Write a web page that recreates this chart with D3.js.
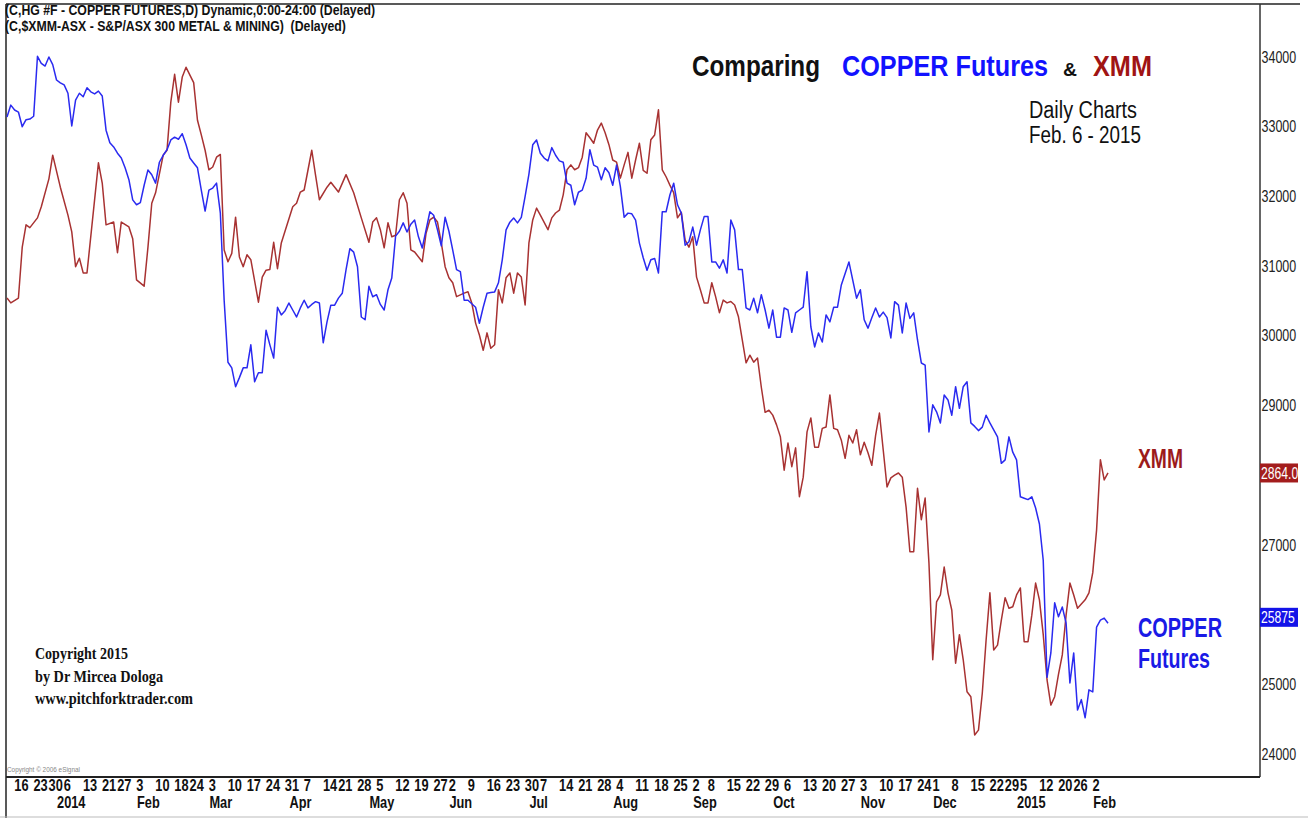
<!DOCTYPE html>
<html>
<head>
<meta charset="utf-8">
<script src="https://cdn.jsdelivr.net/npm/d3@7"></script>
<style>
  body { margin: 0; background: #fff; }
  svg { display: block; }
  text { font-family: "Liberation Sans", Arial, sans-serif; white-space: pre; }
</style>
</head>
<body>
<script>
const width = 1308;
const height = 818;

const copperColor = "#2a2af0";
const xmmColor = "#a83232";

// trading calendar (US exchange holidays inside the range)
const firstDay = "2013-12-12";
const lastDay = "2015-02-06";
const holidays = ["2013-12-25", "2014-01-01", "2014-01-20", "2014-02-17", "2014-04-18", "2014-05-26",
  "2014-07-04", "2014-09-01", "2014-11-27", "2014-12-25", "2015-01-01", "2015-01-19"];

// first trading day of each week (bottom row of labels)
const weekTicks = ["2013-12-16", "2013-12-23", "2013-12-30", "2014-01-06", "2014-01-13", "2014-01-21", "2014-01-27",
  "2014-02-03", "2014-02-10", "2014-02-18", "2014-02-24", "2014-03-03", "2014-03-10", "2014-03-17", "2014-03-24",
  "2014-03-31", "2014-04-07", "2014-04-14", "2014-04-21", "2014-04-28", "2014-05-05", "2014-05-12", "2014-05-19",
  "2014-05-27", "2014-06-02", "2014-06-09", "2014-06-16", "2014-06-23", "2014-06-30", "2014-07-07", "2014-07-14",
  "2014-07-21", "2014-07-28", "2014-08-04", "2014-08-11", "2014-08-18", "2014-08-25", "2014-09-02", "2014-09-08",
  "2014-09-15", "2014-09-22", "2014-09-29", "2014-10-06", "2014-10-13", "2014-10-20", "2014-10-27", "2014-11-03",
  "2014-11-10", "2014-11-17", "2014-11-24", "2014-12-01", "2014-12-08", "2014-12-15", "2014-12-22", "2014-12-29",
  "2015-01-05", "2015-01-12", "2015-01-20", "2015-01-26", "2015-02-02"];

const monthTicks = [["2014-01-02", "2014"], ["2014-02-03", "Feb"], ["2014-03-03", "Mar"], ["2014-04-01", "Apr"],
  ["2014-05-01", "May"], ["2014-06-02", "Jun"], ["2014-07-01", "Jul"], ["2014-08-01", "Aug"], ["2014-09-02", "Sep"],
  ["2014-10-01", "Oct"], ["2014-11-03", "Nov"], ["2014-12-01", "Dec"], ["2015-01-02", "2015"], ["2015-02-02", "Feb"]];

const priceTicks = [24000, 25000, 26000, 27000, 28000, 29000, 30000, 31000, 32000, 33000, 34000];

// HG copper futures, shown x10000 like the price scale
const copper = [
  ["2013-12-12", 33140], ["2013-12-13", 33310], ["2013-12-16", 33240], ["2013-12-17", 33210], ["2013-12-18", 33000],
  ["2013-12-19", 33100], ["2013-12-20", 33110], ["2013-12-23", 33150], ["2013-12-24", 34010], ["2013-12-26", 33910],
  ["2013-12-27", 33870], ["2013-12-30", 34000], ["2013-12-31", 33890], ["2014-01-02", 33670], ["2014-01-03", 33630],
  ["2014-01-06", 33600], ["2014-01-07", 33480], ["2014-01-08", 33010], ["2014-01-09", 33380], ["2014-01-10", 33480],
  ["2014-01-13", 33430], ["2014-01-14", 33560], ["2014-01-15", 33500], ["2014-01-16", 33470], ["2014-01-17", 33510],
  ["2014-01-21", 33440], ["2014-01-22", 32950], ["2014-01-23", 32770], ["2014-01-24", 32710], ["2014-01-27", 32620],
  ["2014-01-28", 32550], ["2014-01-29", 32410], ["2014-01-30", 32240], ["2014-01-31", 31950], ["2014-02-03", 31880],
  ["2014-02-04", 31910], ["2014-02-05", 32160], ["2014-02-06", 32380], ["2014-02-07", 32310], ["2014-02-10", 32190],
  ["2014-02-11", 32490], ["2014-02-12", 32590], ["2014-02-13", 32670], ["2014-02-14", 32810], ["2014-02-18", 32850],
  ["2014-02-19", 32820], ["2014-02-20", 32900], ["2014-02-21", 32740], ["2014-02-24", 32550], ["2014-02-25", 32480],
  ["2014-02-26", 32410], ["2014-02-27", 32090], ["2014-02-28", 31790], ["2014-03-03", 32090], ["2014-03-04", 32120],
  ["2014-03-05", 32190], ["2014-03-06", 31760], ["2014-03-07", 30510], ["2014-03-10", 29620], ["2014-03-11", 29540],
  ["2014-03-12", 29270], ["2014-03-13", 29400], ["2014-03-14", 29540], ["2014-03-17", 29540], ["2014-03-18", 29870],
  ["2014-03-19", 29340], ["2014-03-20", 29470], ["2014-03-21", 29470], ["2014-03-24", 30080], ["2014-03-25", 29870],
  ["2014-03-26", 29680], ["2014-03-27", 30410], ["2014-03-28", 30300], ["2014-03-31", 30360], ["2014-04-01", 30470],
  ["2014-04-02", 30370], ["2014-04-03", 30270], ["2014-04-04", 30400], ["2014-04-07", 30510], ["2014-04-08", 30400],
  ["2014-04-09", 30450], ["2014-04-10", 30490], ["2014-04-11", 30470], ["2014-04-14", 29900], ["2014-04-15", 30200],
  ["2014-04-16", 30440], ["2014-04-17", 30440], ["2014-04-21", 30540], ["2014-04-22", 30610], ["2014-04-23", 30950],
  ["2014-04-24", 31250], ["2014-04-25", 31200], ["2014-04-28", 30990], ["2014-04-29", 30270], ["2014-04-30", 30230],
  ["2014-05-01", 30710], ["2014-05-02", 30560], ["2014-05-05", 30590], ["2014-05-06", 30450], ["2014-05-07", 30370],
  ["2014-05-08", 30660], ["2014-05-09", 30830], ["2014-05-12", 31430], ["2014-05-13", 31500], ["2014-05-14", 31620],
  ["2014-05-15", 31490], ["2014-05-16", 31600], ["2014-05-19", 31660], ["2014-05-20", 31420], ["2014-05-21", 31260],
  ["2014-05-22", 31520], ["2014-05-23", 31780], ["2014-05-27", 31730], ["2014-05-28", 31520], ["2014-05-29", 31290],
  ["2014-05-30", 31700], ["2014-06-02", 31500], ["2014-06-03", 31230], ["2014-06-04", 30950], ["2014-06-05", 30920],
  ["2014-06-06", 30510], ["2014-06-09", 30510], ["2014-06-10", 30460], ["2014-06-11", 30410], ["2014-06-12", 30180],
  ["2014-06-13", 30410], ["2014-06-16", 30610], ["2014-06-17", 30620], ["2014-06-18", 30630], ["2014-06-19", 30760],
  ["2014-06-20", 31090], ["2014-06-23", 31520], ["2014-06-24", 31630], ["2014-06-25", 31690], ["2014-06-26", 31620],
  ["2014-06-27", 31700], ["2014-06-30", 32000], ["2014-07-01", 32320], ["2014-07-02", 32740], ["2014-07-03", 32810],
  ["2014-07-07", 32620], ["2014-07-08", 32550], ["2014-07-09", 32510], ["2014-07-10", 32700], ["2014-07-11", 32590],
  ["2014-07-14", 32510], ["2014-07-15", 32490], ["2014-07-16", 32190], ["2014-07-17", 32160], ["2014-07-18", 31880],
  ["2014-07-21", 32060], ["2014-07-22", 32090], ["2014-07-23", 32260], ["2014-07-24", 32670], ["2014-07-25", 32450],
  ["2014-07-28", 32420], ["2014-07-29", 32240], ["2014-07-30", 32410], ["2014-07-31", 32340], ["2014-08-01", 32160],
  ["2014-08-04", 32450], ["2014-08-05", 32140], ["2014-08-06", 31700], ["2014-08-07", 31760], ["2014-08-08", 31750],
  ["2014-08-11", 31660], ["2014-08-12", 31330], ["2014-08-13", 31120], ["2014-08-14", 30940], ["2014-08-15", 31090],
  ["2014-08-18", 31110], ["2014-08-19", 30900], ["2014-08-20", 31780], ["2014-08-21", 31780], ["2014-08-22", 32020],
  ["2014-08-25", 32190], ["2014-08-26", 31880], ["2014-08-27", 31760], ["2014-08-28", 31300], ["2014-08-29", 31350],
  ["2014-09-02", 31560], ["2014-09-03", 31300], ["2014-09-04", 31520], ["2014-09-05", 31710], ["2014-09-08", 31710],
  ["2014-09-09", 31060], ["2014-09-10", 31060], ["2014-09-11", 30970], ["2014-09-12", 31090], ["2014-09-15", 30900],
  ["2014-09-16", 31660], ["2014-09-17", 31520], ["2014-09-18", 30950], ["2014-09-19", 30950], ["2014-09-22", 30400],
  ["2014-09-23", 30370], ["2014-09-24", 30540], ["2014-09-25", 30330], ["2014-09-26", 30590], ["2014-09-29", 30370],
  ["2014-09-30", 30110], ["2014-10-01", 30370], ["2014-10-02", 29980], ["2014-10-03", 29980], ["2014-10-06", 30400],
  ["2014-10-07", 30370], ["2014-10-08", 30050], ["2014-10-09", 30330], ["2014-10-10", 30370], ["2014-10-13", 30410],
  ["2014-10-14", 30920], ["2014-10-15", 30130], ["2014-10-16", 29840], ["2014-10-17", 30040], ["2014-10-20", 29910],
  ["2014-10-21", 30300], ["2014-10-22", 30200], ["2014-10-23", 30410], ["2014-10-24", 30410], ["2014-10-27", 30730],
  ["2014-10-29", 31060], ["2014-10-30", 30800], ["2014-10-31", 30540], ["2014-11-03", 30660], ["2014-11-04", 30230],
  ["2014-11-05", 30110], ["2014-11-06", 30260], ["2014-11-07", 30400], ["2014-11-10", 30270], ["2014-11-11", 30340],
  ["2014-11-12", 30260], ["2014-11-13", 29970], ["2014-11-14", 30490], ["2014-11-17", 30440], ["2014-11-18", 30040],
  ["2014-11-19", 30470], ["2014-11-20", 30250], ["2014-11-21", 30330], ["2014-11-24", 29940], ["2014-11-25", 29610],
  ["2014-11-26", 29580], ["2014-11-28", 28620], ["2014-12-01", 29010], ["2014-12-02", 28910], ["2014-12-03", 28750],
  ["2014-12-04", 29150], ["2014-12-05", 29080], ["2014-12-08", 28860], ["2014-12-09", 29270], ["2014-12-10", 28960],
  ["2014-12-11", 29270], ["2014-12-12", 29340], ["2014-12-15", 28750], ["2014-12-16", 28700], ["2014-12-17", 28640],
  ["2014-12-18", 28690], ["2014-12-19", 28860], ["2014-12-22", 28750], ["2014-12-23", 28650], ["2014-12-24", 28550],
  ["2014-12-26", 28170], ["2014-12-29", 28220], ["2014-12-30", 28550], ["2014-12-31", 28330], ["2015-01-02", 28220],
  ["2015-01-05", 27690], ["2015-01-06", 27670], ["2015-01-07", 27650], ["2015-01-08", 27690], ["2015-01-09", 27530],
  ["2015-01-12", 27300], ["2015-01-13", 26780], ["2015-01-14", 25100], ["2015-01-15", 25450], ["2015-01-16", 26170],
  ["2015-01-20", 25970], ["2015-01-21", 26110], ["2015-01-22", 25880], ["2015-01-23", 25020], ["2015-01-26", 25450],
  ["2015-01-27", 24630], ["2015-01-28", 24780], ["2015-01-29", 24520], ["2015-01-30", 24920], ["2015-02-02", 24890],
  ["2015-02-03", 25820], ["2015-02-04", 25920], ["2015-02-05", 25950], ["2015-02-06", 25875]
];

// S&P/ASX 300 Metals & Mining, in index points
const xmm = [
  ["2013-12-12", 3115], ["2013-12-13", 3108], ["2013-12-17", 3115], ["2013-12-18", 3188], ["2013-12-19", 3220],
  ["2013-12-20", 3216], ["2013-12-24", 3230], ["2013-12-26", 3246], ["2013-12-30", 3286], ["2013-12-31", 3320],
  ["2014-01-03", 3274], ["2014-01-07", 3234], ["2014-01-08", 3210], ["2014-01-09", 3160], ["2014-01-10", 3172],
  ["2014-01-13", 3151], ["2014-01-14", 3151], ["2014-01-17", 3309], ["2014-01-21", 3280], ["2014-01-22", 3220],
  ["2014-01-24", 3224], ["2014-01-27", 3180], ["2014-01-28", 3224], ["2014-01-30", 3217], ["2014-01-31", 3200],
  ["2014-02-03", 3141], ["2014-02-05", 3132], ["2014-02-06", 3188], ["2014-02-07", 3251], ["2014-02-10", 3266],
  ["2014-02-12", 3320], ["2014-02-13", 3327], ["2014-02-14", 3396], ["2014-02-18", 3436], ["2014-02-19", 3396],
  ["2014-02-20", 3432], ["2014-02-21", 3446], ["2014-02-25", 3424], ["2014-02-26", 3370], ["2014-02-27", 3349],
  ["2014-02-28", 3327], ["2014-03-03", 3299], ["2014-03-04", 3303], ["2014-03-05", 3317], ["2014-03-06", 3321],
  ["2014-03-07", 3184], ["2014-03-10", 3167], ["2014-03-11", 3179], ["2014-03-12", 3231], ["2014-03-13", 3174],
  ["2014-03-14", 3160], ["2014-03-17", 3177], ["2014-03-18", 3170], ["2014-03-20", 3109], ["2014-03-21", 3145],
  ["2014-03-24", 3155], ["2014-03-25", 3156], ["2014-03-26", 3195], ["2014-03-27", 3157], ["2014-03-28", 3194],
  ["2014-04-02", 3246], ["2014-04-03", 3251], ["2014-04-04", 3267], ["2014-04-07", 3270], ["2014-04-09", 3327],
  ["2014-04-10", 3291], ["2014-04-11", 3256], ["2014-04-15", 3274], ["2014-04-16", 3281], ["2014-04-21", 3267],
  ["2014-04-23", 3292], ["2014-04-25", 3266], ["2014-04-29", 3230], ["2014-05-01", 3195], ["2014-05-02", 3224],
  ["2014-05-05", 3230], ["2014-05-06", 3213], ["2014-05-07", 3187], ["2014-05-08", 3223], ["2014-05-09", 3203],
  ["2014-05-12", 3205], ["2014-05-13", 3256], ["2014-05-14", 3266], ["2014-05-15", 3251], ["2014-05-16", 3184],
  ["2014-05-19", 3181], ["2014-05-21", 3167], ["2014-05-22", 3208], ["2014-05-23", 3227], ["2014-05-27", 3231],
  ["2014-05-28", 3224], ["2014-05-29", 3194], ["2014-05-30", 3160], ["2014-06-02", 3144], ["2014-06-03", 3137],
  ["2014-06-04", 3117], ["2014-06-06", 3122], ["2014-06-09", 3124], ["2014-06-10", 3108], ["2014-06-11", 3079],
  ["2014-06-12", 3062], ["2014-06-13", 3040], ["2014-06-16", 3065], ["2014-06-17", 3043], ["2014-06-18", 3048],
  ["2014-06-19", 3127], ["2014-06-20", 3108], ["2014-06-23", 3144], ["2014-06-24", 3151], ["2014-06-25", 3122],
  ["2014-06-26", 3151], ["2014-06-27", 3145], ["2014-06-30", 3105], ["2014-07-01", 3194], ["2014-07-02", 3227],
  ["2014-07-03", 3244], ["2014-07-07", 3234], ["2014-07-09", 3213], ["2014-07-10", 3230], ["2014-07-11", 3237],
  ["2014-07-14", 3241], ["2014-07-15", 3263], ["2014-07-16", 3299], ["2014-07-17", 3306], ["2014-07-18", 3299],
  ["2014-07-21", 3302], ["2014-07-22", 3317], ["2014-07-23", 3352], ["2014-07-24", 3345], ["2014-07-25", 3337],
  ["2014-07-28", 3356], ["2014-07-29", 3366], ["2014-07-30", 3352], ["2014-07-31", 3335], ["2014-08-01", 3313],
  ["2014-08-04", 3310], ["2014-08-05", 3287], ["2014-08-06", 3306], ["2014-08-07", 3324], ["2014-08-08", 3287],
  ["2014-08-11", 3313], ["2014-08-12", 3337], ["2014-08-13", 3298], ["2014-08-14", 3294], ["2014-08-15", 3342],
  ["2014-08-18", 3349], ["2014-08-19", 3385], ["2014-08-20", 3299], ["2014-08-21", 3289], ["2014-08-22", 3277],
  ["2014-08-25", 3266], ["2014-08-26", 3230], ["2014-08-27", 3238], ["2014-08-28", 3198], ["2014-08-29", 3188],
  ["2014-09-02", 3203], ["2014-09-03", 3145], ["2014-09-04", 3127], ["2014-09-05", 3108], ["2014-09-08", 3108],
  ["2014-09-09", 3137], ["2014-09-10", 3117], ["2014-09-11", 3094], ["2014-09-12", 3112], ["2014-09-15", 3108],
  ["2014-09-16", 3110], ["2014-09-17", 3105], ["2014-09-18", 3088], ["2014-09-19", 3055], ["2014-09-22", 3022],
  ["2014-09-23", 3033], ["2014-09-24", 3023], ["2014-09-25", 3029], ["2014-09-26", 2987], ["2014-09-29", 2951],
  ["2014-09-30", 2954], ["2014-10-01", 2947], ["2014-10-02", 2933], ["2014-10-03", 2916], ["2014-10-06", 2868],
  ["2014-10-07", 2907], ["2014-10-08", 2873], ["2014-10-09", 2900], ["2014-10-10", 2830], ["2014-10-13", 2858],
  ["2014-10-14", 2923], ["2014-10-15", 2943], ["2014-10-16", 2901], ["2014-10-17", 2901], ["2014-10-20", 2928],
  ["2014-10-21", 2930], ["2014-10-22", 2976], ["2014-10-23", 2928], ["2014-10-24", 2926], ["2014-10-27", 2911],
  ["2014-10-28", 2885], ["2014-10-29", 2918], ["2014-10-30", 2907], ["2014-10-31", 2926], ["2014-11-03", 2890],
  ["2014-11-04", 2908], ["2014-11-05", 2893], ["2014-11-06", 2875], ["2014-11-07", 2918], ["2014-11-10", 2950],
  ["2014-11-11", 2897], ["2014-11-12", 2844], ["2014-11-13", 2857], ["2014-11-14", 2861], ["2014-11-17", 2864],
  ["2014-11-18", 2858], ["2014-11-19", 2815], ["2014-11-20", 2751], ["2014-11-21", 2751], ["2014-11-24", 2842],
  ["2014-11-25", 2797], ["2014-11-26", 2828], ["2014-11-28", 2735], ["2014-12-01", 2596], ["2014-12-02", 2679],
  ["2014-12-03", 2689], ["2014-12-04", 2729], ["2014-12-05", 2692], ["2014-12-08", 2667], ["2014-12-09", 2591],
  ["2014-12-10", 2632], ["2014-12-11", 2596], ["2014-12-12", 2550], ["2014-12-15", 2543], ["2014-12-16", 2488],
  ["2014-12-17", 2495], ["2014-12-18", 2548], ["2014-12-19", 2624], ["2014-12-22", 2692], ["2014-12-23", 2610],
  ["2014-12-24", 2617], ["2014-12-26", 2653], ["2014-12-29", 2685], ["2014-12-30", 2670], ["2014-12-31", 2672],
  ["2015-01-02", 2689], ["2015-01-05", 2699], ["2015-01-06", 2622], ["2015-01-07", 2622], ["2015-01-08", 2660],
  ["2015-01-09", 2706], ["2015-01-12", 2682], ["2015-01-13", 2632], ["2015-01-14", 2567], ["2015-01-15", 2531],
  ["2015-01-16", 2543], ["2015-01-20", 2575], ["2015-01-21", 2603], ["2015-01-22", 2660], ["2015-01-23", 2706],
  ["2015-01-26", 2689], ["2015-01-27", 2670], ["2015-01-28", 2676], ["2015-01-29", 2682], ["2015-01-30", 2692],
  ["2015-02-02", 2721], ["2015-02-03", 2782], ["2015-02-04", 2883], ["2015-02-05", 2854], ["2015-02-06", 2864.0]
];

const headerLines = ["(C,HG #F - COPPER FUTURES,D) Dynamic,0:00-24:00 (Delayed)",
  "(C,$XMM-ASX - S&P/ASX 300 METAL & MINING)  (Delayed)"];
const copyrightLines = ["Copyright 2015", "by Dr Mircea Dologa", "www.pitchforktrader.com"];

// build list of trading days -> index
const fmt = d3.timeFormat("%Y-%m-%d");
const parse = d3.timeParse("%Y-%m-%d");
const tradingDays = d3.timeDay.range(parse(firstDay), d3.timeDay.offset(parse(lastDay), 1))
  .filter(d => d.getDay() !== 0 && d.getDay() !== 6)
  .map(fmt)
  .filter(d => !holidays.includes(d));
const dayIndex = new Map(tradingDays.map((d, i) => [d, i]));

const plot = {left: 6, right: 1260, top: 4, bottom: 777};

const x = d3.scaleLinear()
  .domain([0, tradingDays.length - 1])
  .range([7, 1108]);

const y = d3.scaleLinear()
  .domain([24000, 34000])
  .range([754, 57]);

// XMM overlay scale: same height per point (x10), lined up so 2864 sits at its last bar
const yXmm = d3.scaleLinear()
  .domain([2460.8, 3460.8])
  .range([754, 57]);

const svg = d3.select("body")
  .append("svg")
  .attr("width", width)
  .attr("height", height);

// narrow text = Liberation Sans squeezed horizontally (no Arial Narrow here)
function label(parent, tx, ty, str, opts) {
  const t = parent.append("text")
    .attr("transform", `translate(${tx},${ty}) scale(${opts.sx || 1},1)`)
    .style("font-size", opts.size + "px")
    .style("font-weight", opts.bold ? "bold" : "normal")
    .attr("fill", opts.fill || "#111")
    .text(str);
  if (opts.family) t.style("font-family", opts.family);
  if (opts.len) t.attr("textLength", opts.len).attr("lengthAdjust", "spacingAndGlyphs");
  return t;
}

// frame
svg.append("line").attr("x1", plot.left).attr("x2", 1300).attr("y1", plot.top).attr("y2", plot.top)
  .attr("stroke", "#222").attr("stroke-width", 1.5);
svg.append("line").attr("x1", plot.left).attr("x2", plot.left).attr("y1", plot.top).attr("y2", height)
  .attr("stroke", "#222").attr("stroke-width", 1.5);
svg.append("line").attr("x1", plot.right).attr("x2", plot.right).attr("y1", plot.top).attr("y2", plot.bottom)
  .attr("stroke", "#333").attr("stroke-width", 1.5);
svg.append("line").attr("x1", plot.left).attr("x2", plot.right).attr("y1", plot.bottom).attr("y2", plot.bottom)
  .attr("stroke", "#222").attr("stroke-width", 2);
svg.append("line").attr("x1", 0).attr("x2", width).attr("y1", 817).attr("y2", 817)
  .attr("stroke", "#bbb").attr("stroke-width", 1);

// header lines
headerLines.forEach((h, i) => label(svg, 5, 15 + i * 16, h, {size: 15, bold: true, sx: 0.82}));

// lines
const line = scale => d3.line()
  .x(d => x(dayIndex.get(d[0])))
  .y(d => scale(d[1]));

svg.append("path")
  .attr("d", line(yXmm)(xmm))
  .attr("fill", "none")
  .attr("stroke", xmmColor)
  .attr("stroke-width", 1.5)
  .attr("stroke-linejoin", "round");

svg.append("path")
  .attr("d", line(y)(copper))
  .attr("fill", "none")
  .attr("stroke", copperColor)
  .attr("stroke-width", 1.5)
  .attr("stroke-linejoin", "round");

// right price axis
const yAxis = d3.axisRight(y)
  .tickValues(priceTicks)
  .tickSize(0)
  .tickPadding(2)
  .tickFormat(d3.format("d"));

const yAxisG = svg.append("g")
  .attr("transform", `translate(${plot.right},0)`)
  .call(yAxis);
yAxisG.select(".domain").remove();
yAxisG.selectAll("text")
  .attr("transform", "scale(0.78,1)")
  .style("font-family", "'Liberation Sans', Arial, sans-serif")
  .style("font-size", "16px")
  .attr("fill", "#222");

// last value boxes
const lastXmm = xmm[xmm.length - 1];
const lastCopper = copper[copper.length - 1];
const boxes = [
  {label: d3.format(".1f")(lastXmm[1]), cy: yXmm(lastXmm[1]), fill: "#a31d1d"},
  {label: String(lastCopper[1]), cy: y(lastCopper[1]) - 6, fill: "#1313e8"}
];
boxes.forEach(b => {
  const g = svg.append("g").attr("transform", `translate(${plot.right},${b.cy})`);
  g.append("rect")
    .attr("x", 0).attr("y", -9.5).attr("width", 38).attr("height", 19)
    .attr("fill", b.fill);
  label(g, 1, 6, b.label, {size: 16, sx: 0.76, fill: "#fff"});
});

// bottom date axis: week row
const xAxisWeeks = d3.axisBottom(x)
  .tickValues(weekTicks.map(d => dayIndex.get(d)))
  .tickSize(0)
  .tickFormat(i => String(parse(tradingDays[i]).getDate()));
const weekG = svg.append("g")
  .attr("transform", `translate(0,${plot.bottom})`)
  .call(xAxisWeeks);
weekG.select(".domain").remove();
weekG.selectAll("text")
  .attr("text-anchor", "start")
  .attr("x", -1)
  .attr("y", 14)
  .attr("dy", 0)
  .attr("transform", "scale(0.8,1)")
  .style("font-family", "'Liberation Sans', Arial, sans-serif")
  .style("font-size", "16px")
  .style("font-weight", "bold")
  .attr("fill", "#111");

// month row
const monthLabel = new Map(monthTicks.map(d => [dayIndex.get(d[0]), d[1]]));
const xAxisMonths = d3.axisBottom(x)
  .tickValues(monthTicks.map(d => dayIndex.get(d[0])))
  .tickSize(0)
  .tickFormat(i => monthLabel.get(i));
const monthG = svg.append("g")
  .attr("transform", `translate(0,${plot.bottom})`)
  .call(xAxisMonths);
monthG.select(".domain").remove();
monthG.selectAll("text")
  .attr("text-anchor", "start")
  .attr("y", 31)
  .attr("dy", 0)
  .attr("transform", "scale(0.8,1)")
  .style("font-family", "'Liberation Sans', Arial, sans-serif")
  .style("font-size", "16px")
  .style("font-weight", "bold")
  .attr("fill", "#111");

// eSignal note
label(svg, 7, 772, "Copyright \u00A9 2006 eSignal", {size: 8, sx: 0.8, fill: "#888"});

// title
label(svg, 692, 76, "Comparing", {size: 30, bold: true, len: 128});
label(svg, 842, 76, "COPPER Futures", {size: 30, bold: true, len: 206, fill: "#1212ff"});
label(svg, 1063, 76, "&", {size: 19, bold: true, len: 14});
label(svg, 1093, 76, "XMM", {size: 30, bold: true, len: 59, fill: "#a01414"});

label(svg, 1029, 118, "Daily Charts", {size: 23, len: 108});
label(svg, 1029, 143, "Feb. 6 - 2015", {size: 23, len: 112});

// series labels on the right
label(svg, 1138, 468, "XMM", {size: 27, bold: true, len: 45, fill: "#9c1b1b"});
label(svg, 1138, 637, "COPPER", {size: 27, bold: true, len: 84, fill: "#1a1ae6"});
label(svg, 1138, 668, "Futures", {size: 27, bold: true, len: 72, fill: "#1a1ae6"});

// copyright block
const copyLens = [93, 128, 158];
copyrightLines.forEach((c, i) => label(svg, 35, 659 + i * 22.5, c, {
  size: 16, bold: true, len: copyLens[i], family: "'Liberation Serif', 'Times New Roman', serif"
}));
</script>
</body>
</html>
